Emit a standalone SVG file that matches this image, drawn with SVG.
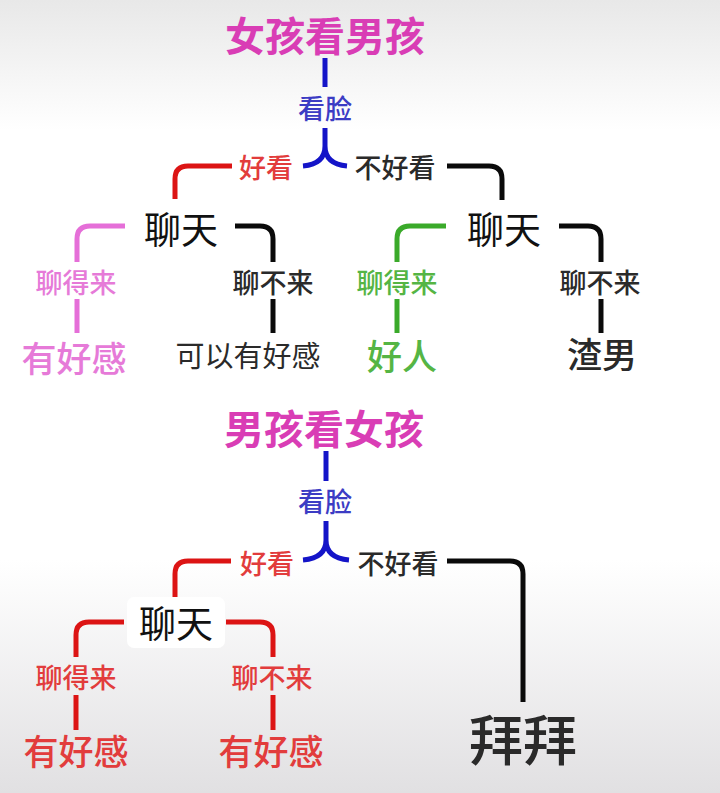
<svg xmlns="http://www.w3.org/2000/svg" width="720" height="793" viewBox="0 0 720 793">
<defs>
<linearGradient id="bgTop" x1="0" y1="0" x2="0" y2="1">
<stop offset="0" stop-color="#e8e8e8"/>
<stop offset="1" stop-color="#ffffff"/>
</linearGradient>
<linearGradient id="bgBot" x1="0" y1="0" x2="0" y2="1">
<stop offset="0" stop-color="#ffffff"/>
<stop offset="1" stop-color="#e1e0e2"/>
</linearGradient>
<style>
text{font-family:"Noto Sans CJK SC","Noto Sans",sans-serif;text-anchor:middle;dominant-baseline:central}
.title{font-size:40px;font-weight:700;fill:#d93db5}
.lbl{font-size:27px;font-weight:500}
.node{font-size:37px;fill:#111}
.leaf{font-size:35px;font-weight:500}
.blueT{fill:#3c3cc4}
.redT{fill:#e23c3c}
.blackT{fill:#2a2a2a}
.pinkT{fill:#e67ad8}
.greenT{fill:#55b544}
.c{fill:none;stroke-width:5;stroke-linecap:butt}
.blue{stroke:#1414c8}
.red{stroke:#dc1414}
.black{stroke:#0a0a0a}
.pink{stroke:#e56fd8}
.green{stroke:#3aaa2a}
</style>
</defs>
<rect x="0" y="0" width="720" height="793" fill="#ffffff"/>
<rect x="0" y="0" width="720" height="130" fill="url(#bgTop)"/>
<rect x="0" y="560" width="720" height="233" fill="url(#bgBot)"/>

<g id="connectors">
<!-- tree 1 -->
<path class="c blue" d="M325,58 V87"/>
<path class="c blue" d="M325,128 V146 Q325,164 303,166 M325,146 Q325,164 347,166"/>
<path class="c red" d="M232,166 H188 Q175,166 175,179 V199"/>
<path class="c black" d="M447,166 H489 Q502,166 502,179 V200"/>
<path class="c pink" d="M125,226 H90 Q77,226 77,239 V262"/>
<path class="c black" d="M235,226 H260 Q273,226 273,239 V262"/>
<path class="c green" d="M446,226 H410 Q397,226 397,239 V262"/>
<path class="c black" d="M559,226 H588 Q601,226 601,239 V262"/>
<path class="c pink" d="M77,299 V333"/>
<path class="c black" d="M273,299 V333"/>
<path class="c green" d="M397,299 V333"/>
<path class="c black" d="M601,299 V333"/>
<!-- tree 2 -->
<path class="c blue" d="M326,451 V481"/>
<path class="c blue" d="M326,521 V540 Q326,558 303,560 M326,540 Q326,558 349,560"/>
<path class="c red" d="M231,561 H188 Q175,561 175,574 V597"/>
<path class="c black" d="M447,561 H510 Q523,561 523,574 V702"/>
<path class="c red" d="M124,622 H89 Q76,622 76,635 V657"/>
<path class="c red" d="M226,622 H260 Q273,622 273,635 V657"/>
<path class="c red" d="M76,695 V730"/>
<path class="c red" d="M273,695 V730"/>
</g>

<g id="title1"><text class="title" x="325" y="34">女孩看男孩</text></g>
<g id="kanlian1"><text class="lbl blueT" x="325" y="107">看脸</text></g>
<g id="haokan1"><text class="lbl redT" x="266" y="166">好看</text></g>
<g id="buhaokan1"><text class="lbl blackT" x="395" y="166">不好看</text></g>
<g id="liaotian1"><text class="node" x="181" y="228">聊天</text></g>
<g id="liaotian2"><text class="node" x="504" y="228">聊天</text></g>
<g id="liaodelai1"><text class="lbl pinkT" x="76" y="281">聊得来</text></g>
<g id="liaobulai1"><text class="lbl blackT" x="273" y="281">聊不来</text></g>
<g id="liaodelai2"><text class="lbl greenT" x="397" y="281">聊得来</text></g>
<g id="liaobulai2"><text class="lbl blackT" x="600" y="281">聊不来</text></g>
<g id="youhaogan1"><text class="leaf pinkT" x="74" y="356">有好感</text></g>
<g id="keyi"><text x="248" y="354" style="font-size:29px" class="blackT">可以有好感</text></g>
<g id="haoren"><text class="leaf greenT" x="402" y="354">好人</text></g>
<g id="zhanan"><text class="leaf blackT" x="602" y="352">渣男</text></g>

<g id="title2"><text class="title" x="324" y="427">男孩看女孩</text></g>
<g id="kanlian2"><text class="lbl blueT" x="325" y="500">看脸</text></g>
<g id="haokan2"><text class="lbl redT" x="267" y="562">好看</text></g>
<g id="buhaokan2"><text class="lbl blackT" x="398" y="562">不好看</text></g>
<g id="liaotian3">
<rect x="127" y="597" width="98" height="51" rx="7" fill="#ffffff"/>
<text class="node" x="176" y="622">聊天</text>
</g>
<g id="liaodelai3"><text class="lbl redT" x="76" y="676">聊得来</text></g>
<g id="liaobulai3"><text class="lbl redT" x="272" y="676">聊不来</text></g>
<g id="youhaogan2"><text class="leaf redT" x="76" y="749">有好感</text></g>
<g id="youhaogan3"><text class="leaf redT" x="271" y="749">有好感</text></g>
<g id="baibai"><text x="523" y="737" style="font-size:54px;font-weight:500" class="blackT">拜拜</text></g>
</svg>
